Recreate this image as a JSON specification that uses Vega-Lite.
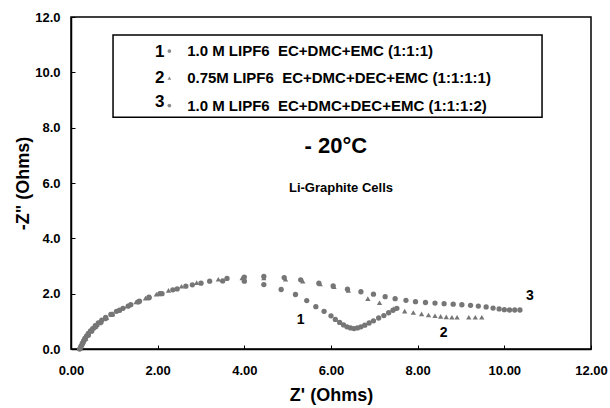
{
  "$schema": "https://vega.github.io/schema/vega-lite/v6.json",
  "width": 520,
  "height": 332,
  "autosize": "none",
  "padding": {"left": 71, "top": 17, "right": 19, "bottom": 59},
  "background": "white",
  "config": {
    "view": {"stroke": "black", "strokeWidth": 1.5},
    "font": "Liberation Sans",
    "axis": {
      "grid": false,
      "domainColor": "black",
      "domainWidth": 1.5,
      "tickColor": "black",
      "tickSize": -4,
      "labelFlush": false,
      "labelFont": "Liberation Sans",
      "labelFontWeight": "bold",
      "labelFontSize": 13,
      "labelColor": "black",
      "titleFont": "Liberation Sans",
      "titleFontWeight": "bold",
      "titleFontSize": 18,
      "titleColor": "black"
    }
  },
  "datasets": {
    "series": [
      {"s": "1", "zr": 0.20, "zi": 0.00}, {"s": "1", "zr": 0.23, "zi": 0.10}, {"s": "1", "zr": 0.26, "zi": 0.20},
      {"s": "1", "zr": 0.29, "zi": 0.29}, {"s": "1", "zr": 0.32, "zi": 0.38}, {"s": "1", "zr": 0.36, "zi": 0.47},
      {"s": "1", "zr": 0.40, "zi": 0.56}, {"s": "1", "zr": 0.45, "zi": 0.65}, {"s": "1", "zr": 0.50, "zi": 0.74},
      {"s": "1", "zr": 0.56, "zi": 0.84}, {"s": "1", "zr": 0.63, "zi": 0.94}, {"s": "1", "zr": 0.71, "zi": 1.04},
      {"s": "1", "zr": 0.80, "zi": 1.14}, {"s": "1", "zr": 0.92, "zi": 1.25}, {"s": "1", "zr": 1.05, "zi": 1.36},
      {"s": "1", "zr": 1.20, "zi": 1.47}, {"s": "1", "zr": 1.38, "zi": 1.60}, {"s": "1", "zr": 1.58, "zi": 1.73},
      {"s": "1", "zr": 1.80, "zi": 1.87}, {"s": "1", "zr": 2.05, "zi": 2.00}, {"s": "1", "zr": 2.35, "zi": 2.14},
      {"s": "1", "zr": 2.65, "zi": 2.27}, {"s": "1", "zr": 3.00, "zi": 2.38}, {"s": "1", "zr": 3.50, "zi": 2.46},
      {"s": "1", "zr": 4.00, "zi": 2.45}, {"s": "1", "zr": 4.45, "zi": 2.33}, {"s": "1", "zr": 4.85, "zi": 2.15},
      {"s": "1", "zr": 5.18, "zi": 1.97}, {"s": "1", "zr": 5.44, "zi": 1.75}, {"s": "1", "zr": 5.65, "zi": 1.53},
      {"s": "1", "zr": 5.84, "zi": 1.36}, {"s": "1", "zr": 6.00, "zi": 1.20}, {"s": "1", "zr": 6.10, "zi": 1.07},
      {"s": "1", "zr": 6.20, "zi": 0.96}, {"s": "1", "zr": 6.29, "zi": 0.87}, {"s": "1", "zr": 6.37, "zi": 0.80},
      {"s": "1", "zr": 6.45, "zi": 0.76}, {"s": "1", "zr": 6.53, "zi": 0.74}, {"s": "1", "zr": 6.61, "zi": 0.76},
      {"s": "1", "zr": 6.69, "zi": 0.80}, {"s": "1", "zr": 6.78, "zi": 0.86}, {"s": "1", "zr": 6.88, "zi": 0.94},
      {"s": "1", "zr": 6.98, "zi": 1.02}, {"s": "1", "zr": 7.10, "zi": 1.12}, {"s": "1", "zr": 7.22, "zi": 1.21},
      {"s": "1", "zr": 7.33, "zi": 1.31}, {"s": "1", "zr": 7.43, "zi": 1.40}, {"s": "1", "zr": 7.52, "zi": 1.47},
      {"s": "2", "zr": 0.21, "zi": 0.02}, {"s": "2", "zr": 0.25, "zi": 0.15}, {"s": "2", "zr": 0.29, "zi": 0.28},
      {"s": "2", "zr": 0.34, "zi": 0.40}, {"s": "2", "zr": 0.39, "zi": 0.52}, {"s": "2", "zr": 0.45, "zi": 0.64},
      {"s": "2", "zr": 0.52, "zi": 0.76}, {"s": "2", "zr": 0.60, "zi": 0.88}, {"s": "2", "zr": 0.70, "zi": 1.00},
      {"s": "2", "zr": 0.82, "zi": 1.13}, {"s": "2", "zr": 0.96, "zi": 1.27}, {"s": "2", "zr": 1.12, "zi": 1.41},
      {"s": "2", "zr": 1.30, "zi": 1.56}, {"s": "2", "zr": 1.50, "zi": 1.70}, {"s": "2", "zr": 1.72, "zi": 1.84},
      {"s": "2", "zr": 1.97, "zi": 1.98}, {"s": "2", "zr": 2.25, "zi": 2.12}, {"s": "2", "zr": 2.55, "zi": 2.27},
      {"s": "2", "zr": 2.90, "zi": 2.40}, {"s": "2", "zr": 3.40, "zi": 2.52}, {"s": "2", "zr": 3.95, "zi": 2.57},
      {"s": "2", "zr": 4.45, "zi": 2.57}, {"s": "2", "zr": 4.95, "zi": 2.52}, {"s": "2", "zr": 5.35, "zi": 2.45},
      {"s": "2", "zr": 5.75, "zi": 2.35}, {"s": "2", "zr": 6.07, "zi": 2.25}, {"s": "2", "zr": 6.40, "zi": 2.12},
      {"s": "2", "zr": 6.85, "zi": 1.82}, {"s": "2", "zr": 7.12, "zi": 1.67}, {"s": "2", "zr": 7.45, "zi": 1.46},
      {"s": "2", "zr": 7.70, "zi": 1.37}, {"s": "2", "zr": 7.90, "zi": 1.32}, {"s": "2", "zr": 8.09, "zi": 1.27},
      {"s": "2", "zr": 8.25, "zi": 1.23}, {"s": "2", "zr": 8.40, "zi": 1.20}, {"s": "2", "zr": 8.53, "zi": 1.18},
      {"s": "2", "zr": 8.66, "zi": 1.16}, {"s": "2", "zr": 8.79, "zi": 1.15}, {"s": "2", "zr": 8.91, "zi": 1.15},
      {"s": "2", "zr": 9.18, "zi": 1.15}, {"s": "2", "zr": 9.33, "zi": 1.15}, {"s": "2", "zr": 9.48, "zi": 1.15},
      {"s": "3", "zr": 0.22, "zi": 0.05}, {"s": "3", "zr": 0.27, "zi": 0.20}, {"s": "3", "zr": 0.33, "zi": 0.35},
      {"s": "3", "zr": 0.40, "zi": 0.50}, {"s": "3", "zr": 0.48, "zi": 0.65}, {"s": "3", "zr": 0.57, "zi": 0.80},
      {"s": "3", "zr": 0.68, "zi": 0.95}, {"s": "3", "zr": 0.80, "zi": 1.10}, {"s": "3", "zr": 0.95, "zi": 1.25},
      {"s": "3", "zr": 1.12, "zi": 1.40}, {"s": "3", "zr": 1.32, "zi": 1.55}, {"s": "3", "zr": 1.55, "zi": 1.70},
      {"s": "3", "zr": 1.80, "zi": 1.85}, {"s": "3", "zr": 2.10, "zi": 2.00}, {"s": "3", "zr": 2.45, "zi": 2.17},
      {"s": "3", "zr": 2.80, "zi": 2.32}, {"s": "3", "zr": 3.20, "zi": 2.45}, {"s": "3", "zr": 3.60, "zi": 2.55},
      {"s": "3", "zr": 4.00, "zi": 2.60}, {"s": "3", "zr": 4.45, "zi": 2.62}, {"s": "3", "zr": 4.92, "zi": 2.58},
      {"s": "3", "zr": 5.30, "zi": 2.50}, {"s": "3", "zr": 5.72, "zi": 2.38}, {"s": "3", "zr": 6.05, "zi": 2.28},
      {"s": "3", "zr": 6.38, "zi": 2.16}, {"s": "3", "zr": 6.69, "zi": 2.07}, {"s": "3", "zr": 6.98, "zi": 1.98},
      {"s": "3", "zr": 7.25, "zi": 1.89}, {"s": "3", "zr": 7.48, "zi": 1.82}, {"s": "3", "zr": 7.73, "zi": 1.76},
      {"s": "3", "zr": 7.95, "zi": 1.71}, {"s": "3", "zr": 8.18, "zi": 1.68}, {"s": "3", "zr": 8.40, "zi": 1.66},
      {"s": "3", "zr": 8.61, "zi": 1.64}, {"s": "3", "zr": 8.82, "zi": 1.62}, {"s": "3", "zr": 9.02, "zi": 1.60},
      {"s": "3", "zr": 9.22, "zi": 1.58}, {"s": "3", "zr": 9.40, "zi": 1.55}, {"s": "3", "zr": 9.58, "zi": 1.52},
      {"s": "3", "zr": 9.74, "zi": 1.48}, {"s": "3", "zr": 9.88, "zi": 1.45}, {"s": "3", "zr": 10.00, "zi": 1.42},
      {"s": "3", "zr": 10.12, "zi": 1.41}, {"s": "3", "zr": 10.24, "zi": 1.41}, {"s": "3", "zr": 10.36, "zi": 1.41}
    ],
    "legendbox": [{"x1": 0.97, "x2": 10.87, "y1": 8.38, "y2": 11.35}],
    "legendrows": [
      {"s": "1", "num": "1", "label": "1.0 M LIPF6\u00a0\u00a0EC+DMC+EMC (1:1:1)", "nx": 2.05, "ny": 10.74, "mx": 2.27, "tx": 2.68, "y": 10.77},
      {"s": "2", "num": "2", "label": "0.75M LIPF6\u00a0\u00a0EC+DMC+DEC+EMC (1:1:1:1)", "nx": 2.05, "ny": 9.81, "mx": 2.27, "tx": 2.68, "y": 9.79},
      {"s": "3", "num": "3", "label": "1.0 M LIPF6\u00a0\u00a0EC+DMC+DEC+EMC (1:1:1:2)", "nx": 2.05, "ny": 8.93, "mx": 2.27, "tx": 2.68, "y": 8.80}
    ],
    "curvelabels": [
      {"t": "1", "x": 5.30, "y": 1.05},
      {"t": "2", "x": 8.60, "y": 0.59},
      {"t": "3", "x": 10.59, "y": 1.92}
    ],
    "temp": [{"t": "- 20°C", "x": 6.11, "y": 7.34}],
    "cells": [{"t": "Li-Graphite Cells", "x": 6.23, "y": 5.82}]
  },
  "layer": [
    {
      "data": {"name": "legendbox"},
      "mark": {"type": "rect", "fill": null, "stroke": "black", "strokeWidth": 1.5},
      "encoding": {
        "x": {"field": "x1", "type": "quantitative", "scale": {"domain": [0, 12], "nice": false},
              "axis": {"title": "Z' (Ohms)", "values": [0, 2, 4, 6, 8, 10, 12], "format": ".2f", "labelPadding": 19, "titlePadding": 9}},
        "x2": {"field": "x2"},
        "y": {"field": "y1", "type": "quantitative", "scale": {"domain": [0, 12], "nice": false},
              "axis": {"title": "-Z\" (Ohms)", "values": [0, 2, 4, 6, 8, 10, 12], "format": ".1f", "labelPadding": 15, "titlePadding": 2}},
        "y2": {"field": "y2"}
      }
    },
    {
      "data": {"name": "series"},
      "mark": {"type": "point", "filled": true, "size": 28, "opacity": 1},
      "encoding": {
        "x": {"field": "zr", "type": "quantitative"},
        "y": {"field": "zi", "type": "quantitative"},
        "shape": {"field": "s", "type": "nominal", "scale": {"domain": ["1", "2", "3"], "range": ["circle", "triangle-up", "circle"]}, "legend": null},
        "color": {"value": "#767676"}
      }
    },
    {
      "data": {"name": "legendrows"},
      "mark": {"type": "point", "filled": true, "size": 14, "opacity": 1},
      "encoding": {
        "x": {"field": "mx", "type": "quantitative"},
        "y": {"field": "y", "type": "quantitative"},
        "shape": {"field": "s", "type": "nominal", "legend": null},
        "color": {"value": "#8a8a8a"}
      }
    },
    {
      "data": {"name": "legendrows"},
      "mark": {"type": "text", "font": "Liberation Sans", "fontWeight": "bold", "fontSize": 17, "align": "center", "baseline": "middle", "color": "black"},
      "encoding": {
        "x": {"field": "nx", "type": "quantitative"},
        "y": {"field": "ny", "type": "quantitative"},
        "text": {"field": "num"}
      }
    },
    {
      "data": {"name": "legendrows"},
      "mark": {"type": "text", "font": "Liberation Sans", "fontWeight": "bold", "fontSize": 15, "align": "left", "baseline": "middle", "color": "black"},
      "encoding": {
        "x": {"field": "tx", "type": "quantitative"},
        "y": {"field": "y", "type": "quantitative"},
        "text": {"field": "label"}
      }
    },
    {
      "data": {"name": "curvelabels"},
      "mark": {"type": "text", "font": "Liberation Sans", "fontWeight": "bold", "fontSize": 14, "align": "center", "baseline": "middle", "color": "black"},
      "encoding": {
        "x": {"field": "x", "type": "quantitative"},
        "y": {"field": "y", "type": "quantitative"},
        "text": {"field": "t"}
      }
    },
    {
      "data": {"name": "temp"},
      "mark": {"type": "text", "font": "Liberation Sans", "fontWeight": "bold", "fontSize": 22, "align": "center", "baseline": "middle", "color": "black"},
      "encoding": {
        "x": {"field": "x", "type": "quantitative"},
        "y": {"field": "y", "type": "quantitative"},
        "text": {"field": "t"}
      }
    },
    {
      "data": {"name": "cells"},
      "mark": {"type": "text", "font": "Liberation Sans", "fontWeight": "bold", "fontSize": 13, "align": "center", "baseline": "middle", "color": "black"},
      "encoding": {
        "x": {"field": "x", "type": "quantitative"},
        "y": {"field": "y", "type": "quantitative"},
        "text": {"field": "t"}
      }
    }
  ]
}
